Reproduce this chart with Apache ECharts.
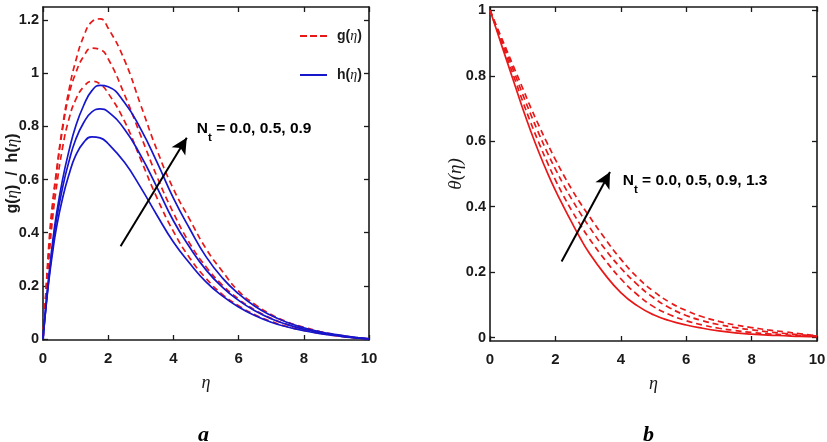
<!DOCTYPE html>
<html>
<head>
<meta charset="utf-8">
<script src="https://cdn.jsdelivr.net/npm/echarts@6.0.0/dist/echarts.min.js"></script>
<style>html,body{margin:0;padding:0;background:#fff;}#c{width:827px;height:442px;}</style>
</head>
<body>
<div id="c"></div>
<script>
// ---------- data ----------
const etaA = [0,0.1,0.2,0.3,0.4,0.6,0.8,1,1.25,1.5,1.75,2,2.5,3,3.5,4,4.5,5,5.5,6,6.5,7,7.5,8,8.5,9,9.5,10];
// g(eta): Nt = 0.0, 0.5, 0.9
const g1 = [0,0.18,0.33,0.46,0.56,0.72,0.83,0.9,0.95,0.97,0.96,0.925,0.82,0.675,0.53,0.405,0.305,0.228,0.168,0.125,0.091,0.066,0.046,0.032,0.021,0.012,0.005,0];
const g2 = [0,0.19,0.36,0.5,0.61,0.79,0.92,1.0,1.065,1.095,1.09,1.055,0.92,0.765,0.61,0.475,0.36,0.272,0.203,0.15,0.109,0.078,0.054,0.037,0.023,0.013,0.005,0];
const g3 = [0,0.2,0.39,0.52,0.62,0.8,0.94,1.045,1.14,1.195,1.205,1.17,1.05,0.88,0.71,0.565,0.45,0.34,0.255,0.18,0.13,0.092,0.064,0.044,0.028,0.016,0.007,0];
// h(eta): Nt = 0.0, 0.5, 0.9
const h1 = [0,0.13,0.24,0.33,0.41,0.53,0.62,0.69,0.74,0.761,0.757,0.735,0.665,0.57,0.465,0.365,0.285,0.215,0.162,0.12,0.088,0.063,0.045,0.031,0.02,0.012,0.005,0];
const h2 = [0,0.135,0.25,0.35,0.44,0.57,0.67,0.75,0.815,0.855,0.866,0.855,0.79,0.69,0.57,0.445,0.345,0.26,0.195,0.145,0.106,0.076,0.054,0.037,0.024,0.014,0.006,0];
const h3 = [0,0.14,0.26,0.37,0.46,0.6,0.71,0.8,0.88,0.935,0.955,0.95,0.89,0.79,0.665,0.53,0.415,0.31,0.23,0.17,0.123,0.088,0.062,0.042,0.027,0.016,0.007,0];

const etaB = [0,0.25,0.5,0.75,1,1.25,1.5,1.75,2,2.25,2.5,2.75,3,3.5,4,4.5,5,5.5,6,6.5,7,7.5,8,8.5,9,9.5,10];
// theta(eta): Nt = 0.0 (solid), 0.5, 0.9, 1.3 (dashed)
const t0 = [1,0.925,0.85,0.775,0.70,0.63,0.565,0.505,0.45,0.40,0.352,0.306,0.264,0.195,0.138,0.098,0.07,0.052,0.039,0.029,0.021,0.015,0.011,0.008,0.006,0.004,0.003];
const t1 = [1,0.931,0.861,0.792,0.722,0.656,0.594,0.536,0.482,0.433,0.388,0.347,0.308,0.24,0.18,0.132,0.095,0.07,0.052,0.039,0.029,0.022,0.016,0.012,0.009,0.006,0.004];
const t2 = [1,0.936,0.872,0.808,0.743,0.681,0.622,0.566,0.515,0.467,0.423,0.382,0.344,0.273,0.213,0.163,0.122,0.091,0.068,0.052,0.04,0.031,0.024,0.018,0.013,0.009,0.005];
const t3 = [1,0.94,0.881,0.821,0.762,0.702,0.647,0.594,0.544,0.497,0.453,0.413,0.376,0.305,0.24,0.185,0.142,0.108,0.083,0.064,0.05,0.039,0.031,0.024,0.018,0.012,0.006];

const xTicks = [0,2,4,6,8,10];
const yTicksA = [0,0.2,0.4,0.6,0.8,1,1.2];
const yTicksB = [0,0.2,0.4,0.6,0.8,1];
const labelA = 'N_t = 0.0, 0.5, 0.9';
const labelB = 'N_t = 0.0, 0.5, 0.9, 1.3';

// ---------- styles ----------
const RED = '#e81818', BLUE = '#1616cc', INK = '#1a1a1a';
const FONT = '"Liberation Sans",Arial,sans-serif';
const SERIF = '"Liberation Serif","Times New Roman",serif';

function pairs(xs, ys){ return xs.map((x,i)=>[x,ys[i]]); }
function line(name, xs, ys, color, dashed, ax){
  return {type:'line', name, xAxisIndex:ax, yAxisIndex:ax, data:pairs(xs,ys), smooth:0.5,
    symbol:'none', silent:true, animation:false, z:3,
    lineStyle:{color, width:1.7, type: dashed ? [6,4] : 'solid'}, itemStyle:{color}};
}
function xAx(grid, bottom){
  return {type:'value', gridIndex:grid, min:0, max:10, interval:2, position: bottom?'bottom':'top',
    axisLine:{show:true, onZero:false, lineStyle:{color:INK, width:1.6}},
    axisTick:{show:true, inside:true, length:5, lineStyle:{color:INK, width:1.3}},
    axisLabel:{show:bottom, margin:11, color:INK, fontFamily:FONT, fontWeight:'bold', fontSize:15},
    splitLine:{show:false},
    name: bottom ? 'η' : '', nameLocation:'middle', nameGap:34,
    nameTextStyle:{fontFamily:SERIF, fontStyle:'italic', fontSize:18, color:INK}};
}
function yAx(grid, left, min, max, ticks, name, gap){
  return {type:'value', gridIndex:grid, min, max, position: left?'left':'right',
    axisLine:{show:true, onZero:false, lineStyle:{color:INK, width:1.6}},
    axisTick:{show:true, inside:true, length:5, customValues:ticks, lineStyle:{color:INK, width:1.3}},
    axisLabel:{show:left, margin:4, color:INK, fontFamily:FONT, fontWeight:'bold', fontSize:14.5, customValues:ticks},
    splitLine:{show:false},
    name: left ? name : '', nameLocation:'middle', nameGap:gap, nameRotate:90, nameMoveOverlap:false,
    nameTextStyle:{color:INK, rich:{
      a:{fontFamily:FONT, fontWeight:'bold', fontSize:16, color:INK},
      b:{fontFamily:SERIF, fontStyle:'italic', fontSize:17, color:INK},
      c:{fontFamily:SERIF, fontStyle:'italic', fontSize:19, color:INK}}}};
}
const annRich = {
  n:{fontFamily:FONT, fontWeight:'bold', fontSize:15.5, color:'#000', lineHeight:19, verticalAlign:'top'},
  s:{fontFamily:FONT, fontWeight:'bold', fontSize:11.5, color:'#000', lineHeight:13, verticalAlign:'top', padding:[11,0,0,0]}
};
function annText(s){ const p = s.split('_t'); return '{n|'+p[0]+'}{s|t}{n|'+p[1]+'}'; }
function annotation(s, at, from, to){
  return {
    markPoint:{silent:true, animation:false, symbol:'circle', symbolSize:0,
      label:{show:true, position:'right', distance:0, formatter:annText(s), rich:annRich},
      data:[{coord:at}]},
    markLine:{silent:true, animation:false, symbol:['none','arrow'], symbolSize:[12,16],
      lineStyle:{color:'#000', width:2, type:'solid'}, label:{show:false},
      data:[[{coord:from},{coord:to}]]}
  };
}

const sA = [line('g(η)',etaA,g1,RED,true,0), line('g(η)',etaA,g2,RED,true,0), line('g(η)',etaA,g3,RED,true,0),
  line('h(η)',etaA,h1,BLUE,false,0), line('h(η)',etaA,h2,BLUE,false,0), line('h(η)',etaA,h3,BLUE,false,0)];
Object.assign(sA[5], annotation(labelA, [4.72,0.785], [2.38,0.349], [4.41,0.758]));
const sB = [line('θ0',etaB,t0,RED,false,2), line('θ1',etaB,t1,RED,true,2), line('θ2',etaB,t2,RED,true,2), line('θ3',etaB,t3,RED,true,2)];
Object.assign(sB[3], annotation(labelB, [4.06,0.475], [2.19,0.233], [3.67,0.506]));

const DASH_ICON = 'path://M0,0h7v2h-7zM10,0h7v2h-7zM20,0h7v2h-7z';
const SOLID_ICON = 'path://M0,0h27v2h-27z';

const chart = echarts.init(document.getElementById('c'), null, {renderer:'canvas'});
chart.setOption({
  animation:false,
  backgroundColor:'#fff',
  grid:[{left:43, top:7, width:326, height:333, outerBoundsMode:'none', containLabel:false},
        {left:490, top:7, width:327, height:334, outerBoundsMode:'none', containLabel:false}],
  xAxis:[xAx(0,true), xAx(0,false), xAx(1,true), xAx(1,false)],
  yAxis:[yAx(0,true,-0.004,1.25,yTicksA,'{a|g(}{b|η}{a|)  /  h(}{b|η}{a|)}',22), yAx(0,false,-0.004,1.25,yTicksA,'',0),
         yAx(1,true,-0.01,1.01,yTicksB,'{c|θ(η)}',25), yAx(1,false,-0.01,1.01,yTicksB,'',0)],
  legend:{data:[{name:'g(η)', icon:DASH_ICON}, {name:'h(η)', icon:SOLID_ICON}],
    orient:'vertical', left:295, top:24, itemWidth:27, itemHeight:2, itemGap:25,
    selectedMode:false,
    formatter: n => n==='g(η)' ? '{f|g(}{b|η}{a|)}' : '{f|h(}{b|η}{a|)}',
    textStyle:{rich:{f:{fontFamily:FONT, fontWeight:'bold', fontSize:14, color:INK, lineHeight:16, padding:[0,0,0,5]},
                     a:{fontFamily:FONT, fontWeight:'bold', fontSize:14, color:INK, lineHeight:16},
                     b:{fontFamily:SERIF, fontStyle:'italic', fontSize:14, color:INK, lineHeight:16}}}},
  title:[
    {text:'a', left:193, top:419, textStyle:{fontFamily:SERIF, fontStyle:'italic', fontWeight:'bold', fontSize:22, color:'#000'}},
    {text:'b', left:638, top:419, textStyle:{fontFamily:SERIF, fontStyle:'italic', fontWeight:'bold', fontSize:22, color:'#000'}}
  ],
  series: sA.concat(sB)
});
</script>
</body>
</html>
